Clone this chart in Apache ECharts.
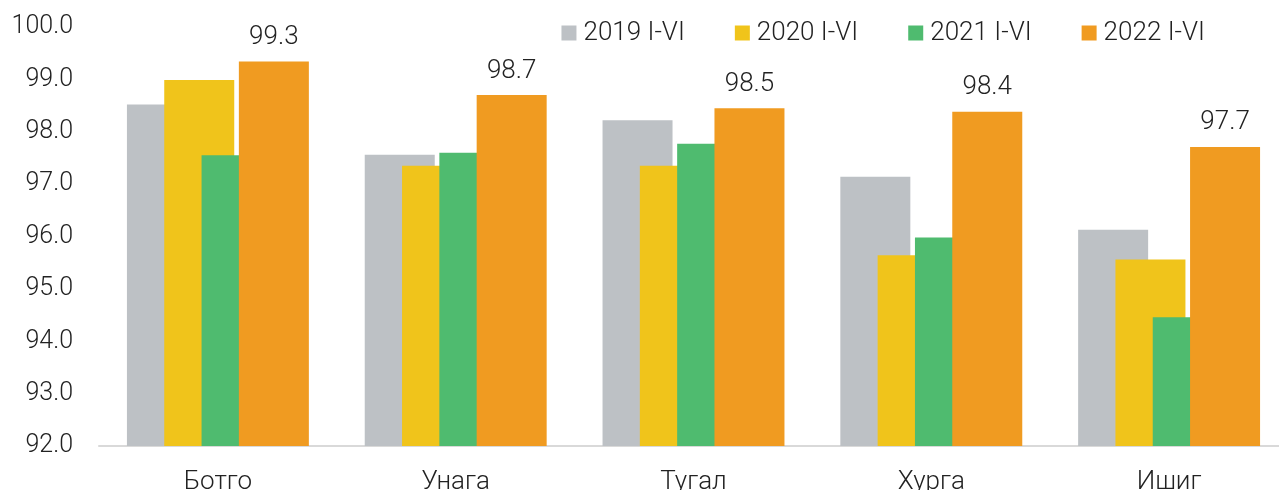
<!DOCTYPE html>
<html>
<head>
<meta charset="utf-8">
<script src="https://cdn.jsdelivr.net/npm/echarts@6/dist/echarts.min.js"></script>
<style>
html,body{margin:0;padding:0;background:#fff;}
#c{width:1279px;height:490px;}
</style>
</head>
<body>
<div id="c"></div>
<script>
const categories = ['Ботго', 'Унага', 'Тугал', 'Хурга', 'Ишиг'];
const seriesNames = ['2019 I-VI', '2020 I-VI', '2021 I-VI', '2022 I-VI'];
const v2019 = [98.52, 97.56, 98.22, 97.14, 96.13];
const v2020 = [98.99, 97.35, 97.35, 95.64, 95.56];
const v2021 = [97.55, 97.60, 97.77, 95.98, 94.46];
const v2022 = [99.34, 98.70, 98.45, 98.38, 97.71];
const colors = ['#BDC1C5', '#F0C41B', '#4FBB6F', '#F09B21'];

const FONT = 'Roboto';
const FW = 300;
const chart = echarts.init(document.getElementById('c'), null, {renderer: 'canvas'});
const allVals = [v2019, v2020, v2021, v2022];
chart.setOption({
  animation: false,
  textStyle: {fontFamily: FONT},
  legend: {
    top: 15, right: 69,
    itemWidth: 15, itemHeight: 15, itemGap: 50,
    icon: 'rect',
    textStyle: {fontFamily: FONT, fontWeight: FW, fontSize: 26, color: '#222', padding: [0, 0, 0, 2]},
    data: seriesNames
  },
  grid: {left: 99, right: -9, top: 27, bottom: 44, containLabel: false, outerBoundsMode: 'none'},
  xAxis: {
    type: 'category',
    data: categories,
    axisTick: {show: false},
    axisLine: {show: true, lineStyle: {color: '#D9D9D9', width: 2}},
    axisLabel: {fontFamily: FONT, fontWeight: FW, fontSize: 26, color: '#222', margin: 23}
  },
  yAxis: {
    type: 'value', min: 92, max: 100, interval: 1,
    splitLine: {show: false},
    axisLine: {show: false}, axisTick: {show: false},
    axisLabel: {fontFamily: FONT, fontWeight: FW, fontSize: 25, color: '#222', margin: 26,
      padding: [5, 0, 0, 0],
      formatter: v => v.toFixed(1)}
  },
  series: seriesNames.map((n, i) => ({
    name: n, type: 'bar',
    data: allVals[i],
    barWidth: 70,
    barGap: '-46.7%',
    itemStyle: {color: colors[i]},
    label: i === 3 ? {show: true, position: 'top', distance: 11, fontFamily: FONT, fontWeight: FW, fontSize: 26, color: '#222',
      formatter: p => p.value.toFixed(1)} : {show: false}
  }))
});
</script>
</body>
</html>
